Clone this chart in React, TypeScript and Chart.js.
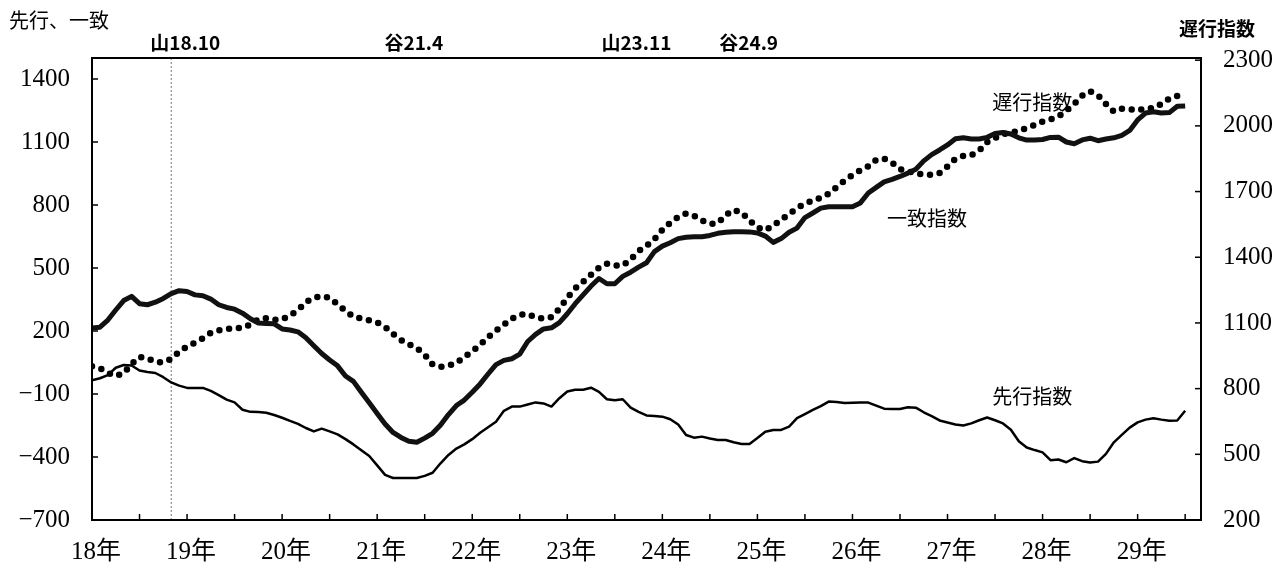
import React, { useEffect, useRef } from "react";
import { Chart, registerables } from "chart.js";

Chart.register(...registerables);

// ---- data (month index 0 = 18年1月) ----
const YEAR_LABELS = ["18年", "19年", "20年", "21年", "22年", "23年", "24年", "25年", "26年", "27年", "28年", "29年"];
const LEFT_TICKS = [-700, -400, -100, 200, 500, 800, 1100, 1400];
const RIGHT_TICKS = [200, 500, 800, 1100, 1400, 1700, 2000, 2300];

// 先行指数 (left axis)
const LEADING = [
  -35, -25, -10, 25, 38, 36, 12, 5, 0, -20,
  -45, -60, -71, -71, -71, -85, -105, -127, -140, -175,
  -185, -186, -189, -200, -213, -228, -242, -262, -278, -265,
  -278, -292, -315, -340, -368, -395, -440, -485, -500, -500,
  -500, -500, -490, -475, -430, -390, -360, -340, -315, -285,
  -258, -232, -180, -160, -160, -150, -140, -145, -160, -120,
  -88, -80, -80, -70, -90, -125, -130, -125, -165, -185,
  -202, -205, -208, -220, -245, -295, -308, -303, -312, -319,
  -319, -330, -338, -338, -310, -280, -271, -271, -255, -215,
  -196, -176, -158, -136, -138, -143, -142, -141, -141, -155,
  -170, -171, -171, -163, -165, -187, -205, -226, -236, -245,
  -250, -240, -225, -212, -225, -240, -270, -325, -355, -367,
  -378, -415, -412, -425, -405, -420, -426, -422, -385, -330,
  -295, -260, -235, -222, -215, -222, -227, -226, -180,
];

// 一致指数 (left axis)
const COINCIDENT = [
  214, 218, 252, 300, 345, 365, 330, 325, 337, 355,
  378, 392, 388, 372, 368, 352, 325, 312, 304, 285,
  258, 238, 236, 234, 210, 205, 196, 168, 130, 93,
  62, 34, -14, -40, -92, -142, -193, -243, -283, -307,
  -325, -330, -310, -287, -248, -198, -155, -129, -92, -52,
  -5, 40, 60, 68, 90, 150, 184, 210, 215, 240,
  282, 330, 372, 414, 450, 425, 425, 460, 480, 504,
  525, 578, 604, 620, 640, 646, 649, 649, 655, 665,
  670, 673, 673, 672, 667, 652, 622, 640, 670, 690,
  740, 762, 785, 792, 792, 792, 792, 810, 857, 884,
  910, 922, 936, 952, 970, 1010, 1040, 1062, 1086, 1115,
  1120, 1114, 1114, 1122, 1140, 1145, 1138, 1120, 1109, 1109,
  1112, 1122, 1123, 1100, 1092, 1110, 1118, 1106, 1114, 1120,
  1132, 1155, 1205, 1238, 1244, 1238, 1240, 1270, 1272,
];

// 遅行指数 (right axis)
const LAGGING = [
  902, 893, 872, 858, 870, 913, 945, 938, 922, 920,
  935, 968, 992, 1010, 1030, 1055, 1066, 1072, 1077, 1077,
  1093, 1117, 1122, 1114, 1116, 1135, 1158, 1195, 1215, 1222,
  1215, 1185, 1155, 1128, 1120, 1112, 1102, 1082, 1050, 1022,
  1003, 985, 955, 910, 899, 905, 917, 945, 970, 1000,
  1035, 1065, 1092, 1120, 1137, 1141, 1125, 1120, 1127, 1165,
  1215, 1258, 1288, 1320, 1352, 1370, 1362, 1362, 1390, 1428,
  1452, 1482, 1525, 1558, 1584, 1600, 1590, 1568, 1552, 1555,
  1592, 1616, 1605, 1568, 1536, 1523, 1545, 1572, 1597, 1625,
  1645, 1659, 1672, 1690, 1720, 1750, 1776, 1797, 1815, 1845,
  1850, 1832, 1802, 1793, 1783, 1778, 1776, 1785, 1815, 1850,
  1863, 1866, 1887, 1926, 1945, 1962, 1970, 1976, 1990, 2004,
  2020, 2030, 2043, 2070, 2100, 2138, 2158, 2140, 2100, 2065,
  2078, 2077, 2070, 2080, 2081, 2100, 2125, 2137, 2134,
];

// 景気の山・谷 (month index)
const TURNING_LABELS = ["山18.10", "谷21.4", "山23.11", "谷24.9"];
const TURNING_MONTHS = [10, 40, 71, 81];
const TURNING_LABEL_DX = [14, 5, -18, 15];

const SERIES_NAMES = ["一致指数", "先行指数", "遅行指数"];

const SERIF = '"Liberation Serif", "Noto Sans CJK JP", serif';
const GOTHIC = '"Noto Sans CJK JP", "Noto Sans", sans-serif';

const toPoints = (arr: number[]) => arr.map((v, i) => ({ x: i, y: v }));
const fmt = (v: any) => {
  const n = Number(v);
  return n < 0 ? "\u2212" + String(-n) : String(n);
};

const overlay = {
  id: "overlay",
  beforeDatasetsDraw(chart: any) {
    const { ctx, chartArea: a, scales } = chart;
    ctx.save();
    ctx.strokeStyle = "#777";
    ctx.lineWidth = 1;
    ctx.setLineDash([2, 2]);
    const px = scales.x.getPixelForValue(TURNING_MONTHS[0]);
    ctx.beginPath();
    ctx.moveTo(px, a.top);
    ctx.lineTo(px, a.bottom);
    ctx.stroke();
    ctx.restore();
  },
  afterDraw(chart: any) {
    const { ctx, chartArea: a, scales } = chart;
    const x = scales.x, yL = scales.yL, yR = scales.yR;
    ctx.save();
    ctx.strokeStyle = "#000";
    ctx.lineWidth = 2;
    ctx.strokeRect(a.left, a.top, a.right - a.left, a.bottom - a.top);

    ctx.lineWidth = 1.5;
    const seg = (x1: number, y1: number, x2: number, y2: number) => {
      ctx.beginPath();
      ctx.moveTo(x1, y1);
      ctx.lineTo(x2, y2);
      ctx.stroke();
    };
    for (const v of LEFT_TICKS) {
      const py = yL.getPixelForValue(v);
      seg(a.left, py, a.left + 6, py);
    }
    for (const v of RIGHT_TICKS) {
      const py = yR.getPixelForValue(v);
      seg(a.right - 6, py, a.right, py);
    }
    for (let m = 6; m < 140; m += 6) {
      const px = x.getPixelForValue(m);
      seg(px, a.bottom, px, a.bottom - 6);
    }

    ctx.fillStyle = "#000";
    ctx.textBaseline = "middle";
    ctx.textAlign = "center";

    // axis titles
    ctx.font = `20px ${GOTHIC}`;
    ctx.fillText("先行、一致", 59, 20);
    ctx.font = `bold 19px ${GOTHIC}`;
    ctx.fillText("遅行指数", 1217, 29);

    // turning point labels
    ctx.font = `bold 19px ${GOTHIC}`;
    TURNING_LABELS.forEach((t, i) => {
      const px = x.getPixelForValue(TURNING_MONTHS[i]) + TURNING_LABEL_DX[i];
      ctx.fillText(t, px, 43);
    });

    // series labels
    ctx.font = `20px ${GOTHIC}`;
    ctx.fillText(SERIES_NAMES[2], x.getPixelForValue(118.7), yR.getPixelForValue(2105));
    ctx.fillText(SERIES_NAMES[0], x.getPixelForValue(105.4), yL.getPixelForValue(738));
    ctx.fillText(SERIES_NAMES[1], x.getPixelForValue(118.7), yL.getPixelForValue(-110));
    ctx.restore();
  },
};

export default function App() {
  const ref = useRef<HTMLCanvasElement | null>(null);
  useEffect(() => {
    if (!ref.current) return;
    const tickFont = { family: SERIF, size: 25 };
    const chart = new Chart(ref.current, {
      type: "line",
      data: {
        datasets: [
          {
            label: SERIES_NAMES[0],
            data: toPoints(COINCIDENT),
            yAxisID: "yL",
            borderColor: "#111",
            borderWidth: 5,
            pointRadius: 0,
            tension: 0,
            borderJoinStyle: "round",
          },
          {
            label: SERIES_NAMES[1],
            data: toPoints(LEADING),
            yAxisID: "yL",
            borderColor: "#000",
            borderWidth: 2.5,
            pointRadius: 0,
            tension: 0,
            borderJoinStyle: "round",
          },
          {
            label: SERIES_NAMES[2],
            data: toPoints(LAGGING),
            yAxisID: "yR",
            borderColor: "#000",
            borderWidth: 6.5,
            borderDash: [0, 9.8],
            borderCapStyle: "round",
            borderJoinStyle: "round",
            pointRadius: 0,
            tension: 0,
          },
        ],
      },
      options: {
        animation: false,
        responsive: false,
        devicePixelRatio: 1,
        layout: { padding: { top: 58, left: 0, right: 0, bottom: 0 } },
        plugins: { legend: { display: false }, tooltip: { enabled: false } },
        scales: {
          x: {
            type: "linear",
            min: 0,
            max: 140,
            grid: { display: false, drawTicks: false },
            border: { display: false },
            afterFit: (s: any) => {
              s.height = 50;
            },
            afterBuildTicks: (s: any) => {
              s.ticks = YEAR_LABELS.map((_, i) => ({ value: i * 12 }));
            },
            ticks: {
              autoSkip: false,
              maxRotation: 0,
              padding: 17,
              labelOffset: 4,
              color: "#000",
              font: tickFont,
              callback: (v: any) => YEAR_LABELS[Math.round(Number(v) / 12)] ?? "",
            },
          },
          yL: {
            type: "linear",
            position: "left",
            min: -700,
            max: 1500,
            grid: { display: false, drawTicks: false },
            border: { display: false },
            afterFit: (s: any) => {
              s.width = 92;
            },
            afterBuildTicks: (s: any) => {
              s.ticks = LEFT_TICKS.map((v) => ({ value: v }));
            },
            ticks: { padding: 22, color: "#000", font: tickFont, callback: fmt },
          },
          yR: {
            type: "linear",
            position: "right",
            min: 200,
            max: 2310,
            grid: { display: false, drawTicks: false },
            border: { display: false },
            afterFit: (s: any) => {
              s.width = 86;
            },
            afterBuildTicks: (s: any) => {
              s.ticks = RIGHT_TICKS.map((v) => ({ value: v }));
            },
            ticks: { padding: 22, color: "#000", font: tickFont, callback: fmt },
          },
        },
      },
      plugins: [overlay],
    } as any);
    return () => chart.destroy();
  }, []);

  return (
    <div style={{ position: "absolute", left: 0, top: 0, width: 1287, height: 570, background: "#fff" }}>
      <canvas ref={ref} width={1287} height={570} style={{ display: "block" }} />
    </div>
  );
}
